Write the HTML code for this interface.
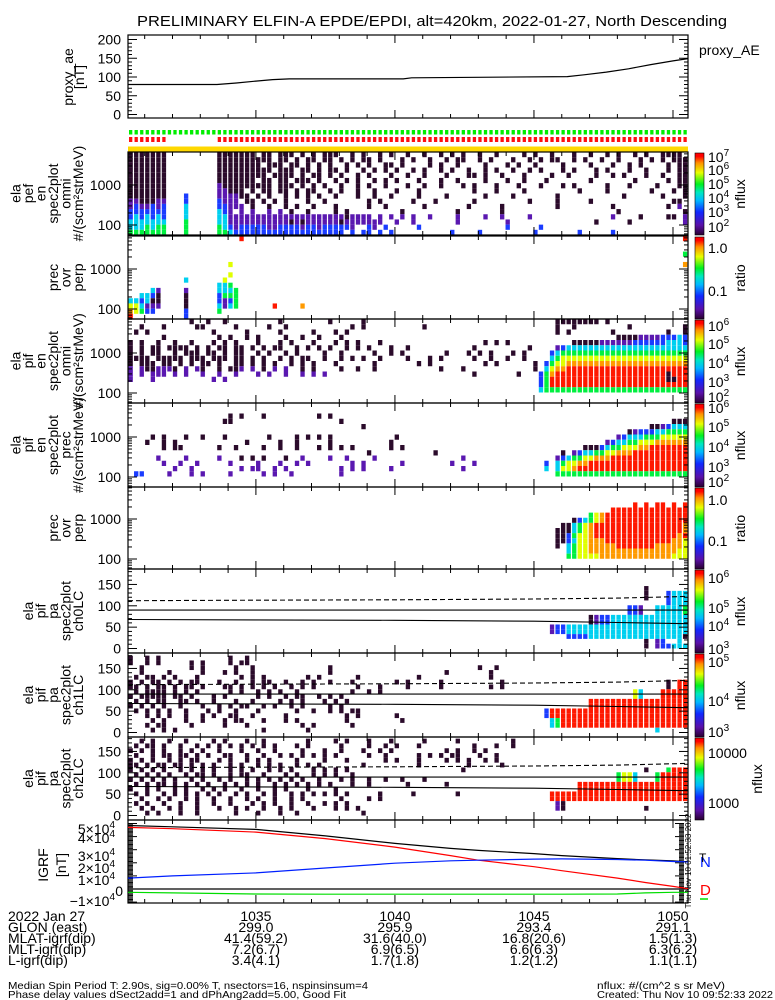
<!DOCTYPE html>
<html><head><meta charset="utf-8">
<style>
html,body{margin:0;padding:0;background:#fff;}
svg{display:block;font-family:"Liberation Sans",sans-serif;}
</style></head>
<body>
<svg id="chart" xmlns="http://www.w3.org/2000/svg" width="775" height="1000" viewBox="0 0 775 1000">
<defs>
<linearGradient id="rainbow" x1="0" y1="1" x2="0" y2="0">
<stop offset="0" stop-color="#2a0030"/>
<stop offset="0.12" stop-color="#5a10a8"/>
<stop offset="0.28" stop-color="#1028ff"/>
<stop offset="0.42" stop-color="#00b8ff"/>
<stop offset="0.52" stop-color="#00e8c0"/>
<stop offset="0.62" stop-color="#00f020"/>
<stop offset="0.76" stop-color="#e8ff00"/>
<stop offset="0.88" stop-color="#ff9000"/>
<stop offset="0.96" stop-color="#ff0000"/>
<stop offset="1" stop-color="#ff0000"/>
</linearGradient>
</defs>
<text x="137" y="26" font-size="15" textLength="590" lengthAdjust="spacingAndGlyphs">PRELIMINARY ELFIN-A EPDE/EPDI, alt=420km, 2022-01-27, North Descending</text>
</svg>
<script>
// ---------------- data ----------------
const aeTimes=[1030.4,1033.6,1034.3,1035.0,1035.6,1036.2,1040.3,1040.6,1046.2,1046.8,1047.6,1048.4,1049.2,1050.0,1050.54];
const aeVals=[80,80,84,89,93,95,95,98,101,106,113,122,133,143,149];
const aeTicks=[0,50,100,150,200];

const timeTicks=[1035,1040,1045,1050];
const glonVals=["299.0","295.9","293.4","291.1"];
const mlatVals=["41.4(59.2)","31.6(40.0)","16.8(20.6)","1.5(1.3)"];
const mltVals=["7.2(6.7)","6.9(6.5)","6.6(6.3)","6.3(6.2)"];
const lVals=["3.4(4.1)","1.7(1.8)","1.2(1.2)","1.1(1.1)"];

const spinGreen="11111111111111111111111111111111111111111111111111111111111111111111111111111111111111111111111111111";
const spinRed  ="11111110000000001111111111111111111111111111111111111111111111111111111111111111111111111111111111111";

const igrfTimes=[1030.4,1032,1035,1037.5,1040,1042,1043,1045,1046,1048,1049,1050,1050.54];
const igrfTot=[48500,47500,45500,40500,34800,31000,29500,27000,25500,23200,22200,21500,20800];
const igrfD=[47000,46000,43400,38500,32000,25500,22000,17000,14000,8300,5000,2000,300];
const igrfN=[8300,10000,12300,16000,19700,21500,22000,22800,23000,22500,22000,21000,20700];
const igrfZ=[-2500,-3000,-3800,-4000,-4000,-4000,-4000,-4000,-4000,-3800,-3000,-2500,-2500];

const lcTimes=[1030.4,1035,1040,1045,1048,1050.54];
const lcDashed=[112,113,114,116,118,122];
const lcLower=[68,67,66,64,61,58];
const lcMid=90;

const p1Left=[
"1111111.........","1111111.........","1111111.........","1111111.........",
"1111111.........","1111111.........","1111111.........","1111111.........",
"1111111...3.....","2211122...3.....","2322323...4.....","3333333...4.....",
"3434343...4.....","4444444...5.....","4445455...5.....","5555555...5....."];
const p1Right=[
"1111111.11.111.1.1.111..1.1..1.1..1..1..1.1.1..1..1....1.1..1...1..1..1.1..1.1..1111",
"1111111111.11.1.11.11.1.1.11.1...1.1..1..1.11..1.1...1..1.1.11..1.1..1..1...1.1.1.111",
"11111111.111.11.1.1.1..1.1.1..11.1....1.1..1....1...1.1..1....1....1...1..1.1....1.11",
"1111111111.111.11.1.11.1..1.1.1.1..1.1..1.1..1..1.1..1..1.1...1.1...1.1...1..1...1.11",
"111111111.1111.1.11.1.1..1.1...1..1..1...1...11.1..1...1....1..1....1..1.1...1..1..11",
"1111111.11.11.111.1..1.1.1..1.1.1...1...1..1....1...1..1...1.......1.......1.....1.11",
"2111111111.111.1.1.1..1..1.1..1...1..1..1...1.1...1...1...1...1.1.....1...1....1...11",
"22111.1.11.11.1.11..1.1..1..1...1...1.........1...1....1.........1....1.......1...1.1",
"222211.1.1..1.1.1.1..1...1..1..1....1....1......1....1.......1...........1......1...1",
"3222.11.1.1.1...1..1.......1.1.....1...1......1.........1....1.....1..............11",
"33222.1..1..1.1..1...1.....1..1......1.......1.....1.........1.........1.........1.2",
"432.2.2..2.2.1..1....1.1.........1.........1.......1....................1...........1",
"4422222222222222222222212222.2.2.2.2..2....2....2..2....2..............2....1....11.2",
"442222222222212122222212222222..2..2.......2........2...............1.....1.........2",
"5432333332233332332333332..32.3.....3...............3.....3..........................2",
"55433333333333333333333.3.33.3.3..........3....3.........3.......3.....3.............2"];

const p2Cols=[20,100,100,100,18,18,0,0,0,0,1,1,1,2,2,2,2,3,3,3,3,4,4,4,4,4,5,5,5,5,10,10,10,10,10,10,10,16,16,16,16,16,16,17,17,17,17,17,18,18,18,18,18,17,19,19,19,19,26,31];
const p2Rows=[0,0,3,5,5,7,12,13,14,15,12,13,14,11,12,13,14,11,12,13,14,10,11,12,13,14,10,11,12,13,8,10,11,12,13,14,15,9,10,11,12,13,14,9,10,11,12,13,9,10,11,12,13,8,10,11,12,13,13,13];
const p2Levels=[8,8,5,7,6,6,4,6,7,8,4,6,6,4,3,4,5,4,4,2,3,4,3,1,2,3,2,1,1,2,4,2,1,1,1,3,3,4,4,3,3,4,5,4,4,5,2,2,5,4,5,3,4,6,5,5,5,5,8,7];

const p3Left=[
"...........1..1..1.........1........1.....1..........",
"..1...1.....11.....1.....1..1...........1.1..........1",
".1.1...........1.....1.....1.....1...1.1.............",
"......1.........1.1..1.1....1..1..1...1..............",
"1.1..1..1..1...1.1.1...1...1.1...1...1.1.1...1..................1.1.1",
"1.1.11.1111.1.1.11.11.1.1.11..1.1.1.1..1.1.1...1..1...........1.........1",
"1.1.11..1.111.11.1.11..1.1..1.1....1..1.....1..1.1.......1...1.1.1...1.1",
"1111.11111.111.111.11.1.1..1.1.11..1..1.1.1..1....1...1.1.....1..1..1..1",
"1.111.11.1.1.11.1..11.1.1.1..1.1.1...1......1.......1.1.........1.1......1",
"2.2112221.2.21..1.112.2.1.2.2..1.1....1..1..1...........1...1............1",
"2.2.222.2.2..2..2..2...2.2..2..2.2.2..........................1.......1",
"2...2..........2.2",
"","","",""];
const p3Right=[
"...11111111.1..............","...1..1.........1.........11","...1.1.......1.........1..11",
"..............11112222333433","......1111122222233333344433","...234444444444444444444444",
"..3455555555555555555555555","..4566666666666666666666666",".35667777777777777777777777",
".46778888888888888888888888","3578888888888888888888818888","3588888888888888888888811888",
"3588888888888888888888888888","4555555555555555555555555555","",""];

const p4Left=[
"","",
"..................1.1...1.........1.1",
".................11...................1",
"..........................................1",
"",
"....1.1...1..1...1.......1....1.1.1.1...........1",
"...1..1.1............1.....1..1.....1..........1",
"......1.11......1..1....1..1..1...1.1.1.1......1.1",
"...........................................1...........1",
".....2....2.....2...1.1.1...1..2....2..2....2...............2",
"......2..2..2.....2....2...2..2.2.......2.2......2........2...2",
"........2..2........2.22..2.2.........2.2.2....2............2",
".33....2...2.2....2.....2.2..2........2",
"",""];
const p4Right=[
"","","",
".......................111","...................1123444","...............12333445555",
".............2344455566666","...........234455666777777",".......11134556667788888888",
"...1.234455667778888888888","..2345566777888888888888888","3.45667788888888888888888888",
"4.4667888888888888888888888","..55555555555555555555555555","",""];

const p5Right=[
"","","",
"..............8.8.88.8.8.","..........88888888888888.8","......5678888888888888888",
"...1345678888888888888888",".114567888888888888888878","1114567888888888888888878",
"1135667888888888888888786","1134667778888888888887766","1.45667777788888887777765",
"..4566777777777777777766645","..5566667777777777777666645","",""];

const p6Right=[
"","","",
"..................1.......","..................1...3444","..................1...3444",
"......................3444","...............332..4444454","...............332..4444454",
"........1233444444444444444","........1233444444444444444",".2334444444444444444444444",
".2334444444444444444444444","....3333444444444444444441","..................1.23..4",
"..................1.2334441"];

const p7Left=[
"1..1.1............1..1",
"1..1.1.....1.1....1.11",
"..1........1.1.....1..1.............1..........................1..1",
"..1....1.....1...1.1..1.............1....................1.......1",
".1.11.1.1...1.......1.1.1.......1.1......1..........1............1",
"1.1.11.1.1.11...1..1..1.11..1..1.1..1...1.......1.1.....1..........1",
"11.1.11.1.11.1...11.1.1.1.1..1.1.1.......1...1....1.....1........1.1",
".1.1111.1.1.1.....1.1..1.1.1..1.........1..1.1",
"1.11111.11.1...1.1.....1.1..1.11..1.1.1",
".1.1.11..11.1..1...1..1....1.1.1...1.1.1",
"1.1.1.1..1...1..1.1.11..1.1..1.1....1.1",
".1.1.1.1..1...1.1..1...1......1..1..1.1.11",
"...1.1.1..1..1.1..11..1.....1..........1.1......1",
"....1.1...1..1...1.11...1...1.1........1.........1",
"...1.11....1.....1...1.........1.1......1",
"....1.1.1...............1.......1"];
const p7Right=[
"","","","","",
"......................1.888","......................1.888","................64...888888",
"................64...888888","........88888888888888888888","........88888888888888888888",
"3888888888888888888888888888","3888888888888888888888888888",".458888888888888888888888888",
".458888888888888888888888888","....................4......."];

const p8Left=[
"..1.1..1..1....1.1...1..1.......1....1.1...1...1.....1.....1.........1",
".1.11.1..1..1.1.1.1.1.1.1.1...1.1.....1....1..1.1...1.........1...1..1",
"1.1.1.1..1.1.1..1...1..1..1....1...1..1...1..1.1.........1.1..1.1",
".1..1.11.11.1.1..11..1..1..1.1.1.1.1.1.....1..1.....1.1.1.11...1..1",
"1.1.1..1.1.11...1.1..1.1.1....1....1...1......1.1...1....1.1.1..1.1",
"11.1.11.11.1.1.1..1.1..1.1.1..1.1.1.......1.........1........1.....1",
"1.1.1.1..1.1.1.1..1.1.1..1.1.1...1.1.1.1....................1",
".1.1.1.1..1.11.1..1.11..1...1.1..1.1.1..1",
"1.1.1.1.1..1.1..1.1..1.1.1.1.1.1..1...1.1..1..1..1...1",
".1.1.11.1.1.1.1..1.1.1.1..1.1.1.1.1.1...1..1......1......1",
"1..1.1..1.1..1.1.1..1..1..1.1...1....1",
".1.1..1.1.1.1.1.1..1.1..1.1..1.1.1.1.1.1.....1.....1.......1",
"..1..1.1..1.1..1..1..1.1..1..1.1......1....1.1",
".1.1..1..1..1..1..1...1.1.1..1..1..1.1.1",
"..1.1..1.1..1...1..1.1..1..1.1...1...1.1.1",
"...1.1...1..1......1...1...1..1...........1"];
const p8Right=[
"","","","","","",
"..................1...5888",".............5664...588888",".............5664...588888",
"......88888888888888888888","......88888888888888888888",".88888888888888888888888888",
".88888888888888888888888888","..21......................","..21..............1.......8",""];

// ---------------- drawing ----------------
const svg=document.getElementById('chart');
const NS='http://www.w3.org/2000/svg';
function mk(tag,attrs,parent){const e=document.createElementNS(NS,tag);for(const k in attrs)e.setAttribute(k,attrs[k]);(parent||svg).appendChild(e);return e;}
const X0=128,X1=688,T0=1030.4,T1=1050.54,NC=101;
const colW=(X1-X0)/NC;
function xT(t){return X0+(t-T0)/(T1-T0)*(X1-X0);}
const LEV={'1':'#2b0b2b','2':'#5a18b0','3':'#1a3cff','4':'#00d0f0','5':'#00f040','6':'#e0ff00','7':'#ff9a00','8':'#ff1800'};
function txt(x,y,s,size,anchor,fill,parent){const t=mk('text',{x:x,y:y,'font-size':size,'text-anchor':anchor||'start',fill:fill||'#000'},parent);t.textContent=s;return t;}
function line(x1,y1,x2,y2,parent,stroke,w){return mk('line',{x1:x1,y1:y1,x2:x2,y2:y2,stroke:stroke||'#000','stroke-width':w||1},parent);}

function timeTicksOn(g,top,bot){
  for(let m=1031;m<=1050;m++){const x=xT(m);const L=(m%5===0)?8:4;
    line(x,bot,x,bot-L,g);line(x,top,x,top+L,g);}
}
function vLabels(g,lines,cy){
  const n=lines.length;
  lines.forEach((s,i)=>{const x=78-12.5*(n-1-i)+5;
    const t=txt(x,cy,s,14,'middle','#000',g);t.setAttribute('transform','rotate(-90 '+x+' '+cy+')');
    
    });
}
function drawCells(g,rows,startCol,rowTop,rowH,clipTop,clipBot){
  rows.forEach((row,r)=>{for(let i=0;i<row.length;i++){const c=row[i];if(!LEV[c])continue;const col=startCol+i;if(col>=NC)continue;
    let y=rowTop+r*rowH,h=rowH;if(y<clipTop){h-=clipTop-y;y=clipTop;}if(y+h>clipBot)h=clipBot-y;if(h<=0)continue;
    const rc=mk('rect',{x:(X0+col*colW+0.5).toFixed(2),y:y.toFixed(2),width:(colW-1.2).toFixed(2),height:h.toFixed(2),fill:LEV[c]},g);
    
    }});
}
function combine(left,right,split){return left.map((l,i)=>l.padEnd(split,'.').slice(0,split)+(right[i]||''));}
function energyAxis(g,top,bot){
  const yE=e=>bot-10-(Math.log10(e)-2)*40;
  const vals=[60,70,80,90,100,200,300,400,500,600,700,800,900,1000,2000,3000,4000,5000,6000,7000,8000,9000];
  vals.forEach(v=>{const y=yE(v);if(y<top||y>bot)return;const L=(v===100||v===1000)?9:4;line(X0,y,X0+L,y,g);line(X1,y,X1-L,y,g);});
  [100,1000].forEach(v=>{const t=txt(121,yE(v)+5,String(v),14,'end','#000',g);
    
    });
}
function pitchAxis(g,top,bot){
  const z=bot-4.5;
  for(let d=0;d<=180;d+=10){const y=z-d*0.427;const L=(d%50===0)?9:4;line(X0,y,X0+L,y,g);line(X1,y,X1-L,y,g);}
  [0,50,100,150].forEach(d=>{const t=txt(121,z-d*0.427+5,String(d),14,'end','#000',g);
    
    });
}
function colorbar(g,top,bot,labels,title,titleX){
  const r=mk('rect',{x:695,y:top,width:9,height:bot-top,fill:'url(#rainbow)',stroke:'#000','stroke-width':0.6},g);
  
  
  labels.forEach(l=>{const t=mk('text',{x:708,y:l[2],'font-size':14},g);
    
    
    t.appendChild(document.createTextNode(l[0]));
    if(l[1]){const s=mk('tspan',{dy:-6,'font-size':10},t);s.textContent=l[1];}});
  const cy=(top+bot)/2;const tt=txt(titleX,cy,title,14,'middle','#000',g);tt.setAttribute('transform','rotate(-90 '+titleX+' '+cy+')');
  
  
}
function frame(g,top,bot){const f=mk('rect',{x:X0,y:top,width:X1-X0,height:bot-top,fill:'none',stroke:'#000','stroke-width':1.2},g);
  
  }

(function(){
  const g=mk('g',{});
  
  
  const top=35,bot=118,yV=v=>114.5-v*0.375;
  frame(g,top,bot);timeTicksOn(g,top,bot);
  for(let v=0;v<=200;v+=10){const L=(v%50===0)?9:4;line(X0,yV(v),X0+L,yV(v),g);line(X1,yV(v),X1-L,yV(v),g);}
  aeTicks.forEach(v=>{const t=txt(121,yV(v)+5,String(v),14,'end','#000',g);
    
    });
  const pts=aeTimes.map((t,i)=>xT(t).toFixed(1)+','+yV(aeVals[i]).toFixed(1)).join(' ');
  const pl=mk('polyline',{points:pts,fill:'none',stroke:'#000','stroke-width':1.2},g);
  
  
  const lt=txt(699,55,'proxy_AE',14,'start','#000',g);
  
  
  [['proxy_ae',73],['[nT]',84]].forEach(a=>{const t=txt(a[1],77,a[0],14,'middle','#000',g);t.setAttribute('transform','rotate(-90 '+a[1]+' 77)');
    
    });
})();

(function(){
  const g=mk('g',{});
  
  
  for(let c=0;c<NC;c++){
    if(spinGreen[c]==='1'){const r=mk('rect',{x:X0+c*colW+1,y:130,width:3.3,height:4.5,fill:'#00ee00'},g);
      
      }
    if(spinRed[c]==='1'){const r=mk('rect',{x:X0+c*colW+1,y:137,width:3.3,height:5,fill:'#ff1010'},g);
      
      }
  }
  const y=mk('rect',{x:X0,y:146.5,width:X1-X0,height:5.5,fill:'#ffd800'},g);
  
  
})();

const panels=[
 {name:'pef-omni-panel',top:152,bot:235,kind:'E',rows:combine(p1Left,p1Right,16),start:0,labels:['ela','pef','en','spec2plot','omni','#/(scm\u00B2strMeV)'],
  cb:[['10','7',162],['10','6',175],['10','5',189],['10','4',203],['10','3',217],['10','2',232]],cbt:'nflux'},
 {name:'pef-ratio-panel',top:236,bot:319,kind:'E',rows:null,start:0,labels:['prec','ovr','perp'],
  cb:[['1.0','',253],['0.1','',296]],cbt:'ratio'},
 {name:'pif-omni-panel',top:319,bot:403,kind:'E',rows:combine(p3Left,p3Right,74),start:0,labels:['ela','pif','en','spec2plot','omni','#/(scm\u00B2strMeV)'],
  cb:[['10','6',331],['10','5',349],['10','4',368],['10','3',387],['10','2',402]],cbt:'nflux'},
 {name:'pif-prec-panel',top:403,bot:487,kind:'E',rows:combine(p4Left,p4Right,75),start:0,labels:['ela','pif','en','spec2plot','prec','#/(scm\u00B2strMeV)'],
  cb:[['10','6',413],['10','5',432],['10','4',452],['10','3',472],['10','2',487]],cbt:'nflux'},
 {name:'pif-ratio-panel',top:487,bot:569,kind:'E',rows:p5Right,start:77,labels:['prec','ovr','perp'],
  cb:[['1.0','',505],['0.1','',546]],cbt:'ratio'},
 {name:'ch0lc-panel',top:569,bot:653,kind:'P',rows:p6Right,start:75,labels:['ela','pif','pa','spec2plot','ch0LC'],
  cb:[['10','6',583],['10','5',613],['10','4',631],['10','3',654]],cbt:'nflux'},
 {name:'ch1lc-panel',top:653,bot:737,kind:'P',rows:combine(p7Left,p7Right,75),start:0,labels:['ela','pif','pa','spec2plot','ch1LC'],
  cb:[['10','5',667],['10','4',706],['10','3',737]],cbt:'nflux'},
 {name:'ch2lc-panel',top:737,bot:820,kind:'P',rows:combine(p8Left,p8Right,75),start:0,labels:['ela','pif','pa','spec2plot','ch2LC'],
  cb:[['10000','',758],['1000','',808]],cbt:'nflux'}
];
panels.forEach((p,idx)=>{
  const g=mk('g',{});
  
  
  if(p.kind==='E'){
    if(p.rows) drawCells(g,p.rows,p.start,p.top,(p.bot-p.top)/16,p.top,p.bot);
    else{ const rh=(p.bot-p.top)/16;
      p2Cols.forEach((c,i)=>{const rc=mk('rect',{x:(X0+c*colW+0.5).toFixed(2),y:(p.top+p2Rows[i]*rh).toFixed(2),width:(colW-1.2).toFixed(2),height:rh.toFixed(2),fill:LEV[String(p2Levels[i])]},g);
        
        });}
    energyAxis(g,p.top,p.bot);
  } else {
    const z=p.bot-4.5, y180=z-180*0.427, rh=180*0.427/16;
    drawCells(g,p.rows,p.start,y180,rh,p.top,p.bot);
    pitchAxis(g,p.top,p.bot);
    const yD=d=>z-d*0.427;
    const dp=lcTimes.map((t,i)=>xT(t).toFixed(1)+','+yD(lcDashed[i]).toFixed(1)).join(' ');
    const d1=mk('polyline',{points:dp,fill:'none',stroke:'#000','stroke-width':1.1,'stroke-dasharray':'5,3'},g);
    
    
    const lp=lcTimes.map((t,i)=>xT(t).toFixed(1)+','+yD(lcLower[i]).toFixed(1)).join(' ');
    const d2=mk('polyline',{points:lp,fill:'none',stroke:'#000','stroke-width':1.1},g);
    
    
    const d3=line(X0,yD(lcMid),X1,yD(lcMid),g,'#000',1.1);
    
    
  }
  frame(g,p.top,p.bot);timeTicksOn(g,p.top,p.bot);
  vLabels(g,p.labels,(p.top+p.bot)/2);
  colorbar(g,p.top+1,p.bot,p.cb,p.cbt,idx===7?762:745);
});

(function(){
  const g=mk('g',{});
  
  
  const top=820,bot=903,yB=v=>889-v*0.00131;
  frame(g,top,bot);timeTicksOn(g,top,bot);
  for(let v=-10000;v<=50000;v+=1000){const y=yB(v);if(y<top||y>bot)continue;const L=(v%10000===0)?9:5;line(X0,y,X0+L,y,g);line(X1-4,y,X1-4-L,y,g);}
  const lab=[['5\u00D710',834],['4\u00D710',843],['3\u00D710',861],['2\u00D710',873],['1\u00D710',885],['0',896],['\u22121\u00D710',906]];
  lab.forEach(l=>{const t=mk('text',{x:l[0]==='0'?123:115,y:l[1],'font-size':14,'text-anchor':'end'},g);
    
    
    t.appendChild(document.createTextNode(l[0]));
    if(l[0]!=='0'){const s=mk('tspan',{dy:-6,'font-size':10},t);s.textContent='4';}});
  line(X0,yB(0),X1,yB(0),g,'#000',1.2);
  const series=[[igrfTot,'#000','igrf-total-line'],[igrfD,'#ff0000','igrf-d-line'],[igrfN,'#0020ff','igrf-n-line'],[igrfZ,'#00dd00','igrf-z-line']];
  series.forEach(s=>{const pts=igrfTimes.map((t,i)=>xT(t).toFixed(1)+','+yB(s[0][i]).toFixed(1)).join(' ');
    const pl=mk('polyline',{points:pts,fill:'none',stroke:s[1],'stroke-width':1.2},g);
    
    });
  [['IGRF',48],['[nT]',66]].forEach(a=>{const t=txt(a[1],865,a[0],14,'middle','#000',g);t.setAttribute('transform','rotate(-90 '+a[1]+' 865)');
    
    });
  const n=txt(700,867,'N',15,'start','#0020ff',g);
  
  
  const tt=txt(699,862,'T',12,'start','#000',g);
  
  
  const d=txt(700,895,'D',15,'start','#ff0000',g);
  
  
  const z=line(700,899,708,899,g,'#00dd00',1.5);
  
  
  const ts=txt(691,861,'Thu Nov 10 01:52:33 2022',8,'middle','#000',g);ts.setAttribute('transform','rotate(-90 691 861)');
  
  
})();

(function(){
  const g=mk('g',{});
  
  
  const rowsLab=[['2022 Jan 27',null,921],['GLON (east)',glonVals,932],['MLAT-igrf(dip)',mlatVals,943],['MLT-igrf(dip)',mltVals,954],['L-igrf(dip)',lVals,965]];
  rowsLab.forEach(r=>{const t=txt(8,r[2],r[0],14,'start','#000',g);
    
    
    const vals=r[1]||timeTicks.map(String);
    vals.forEach((v,i)=>{const x=xT(timeTicks[i]);const vt=txt(x,r[2],v,14,'middle','#000',g);
      
      });});
  const f=[['Median Spin Period T: 2.90s, sig=0.00% T, nsectors=16, nspinsinsum=4',8,989,360],
           ['Phase delay values dSect2add=1 and dPhAng2add=5.00, Good Fit',8,998,338],
           ['nflux: #/(cm^2 s sr MeV)',597,989,128],
           ['Created: Thu Nov 10 09:52:33 2022',597,998,176]];
  f.forEach(a=>{const t=txt(a[1],a[2],a[0],10.5,'start','#000',g);t.setAttribute('textLength',a[3]);t.setAttribute('lengthAdjust','spacingAndGlyphs');
    
    });
})();
</script>
</body></html>
